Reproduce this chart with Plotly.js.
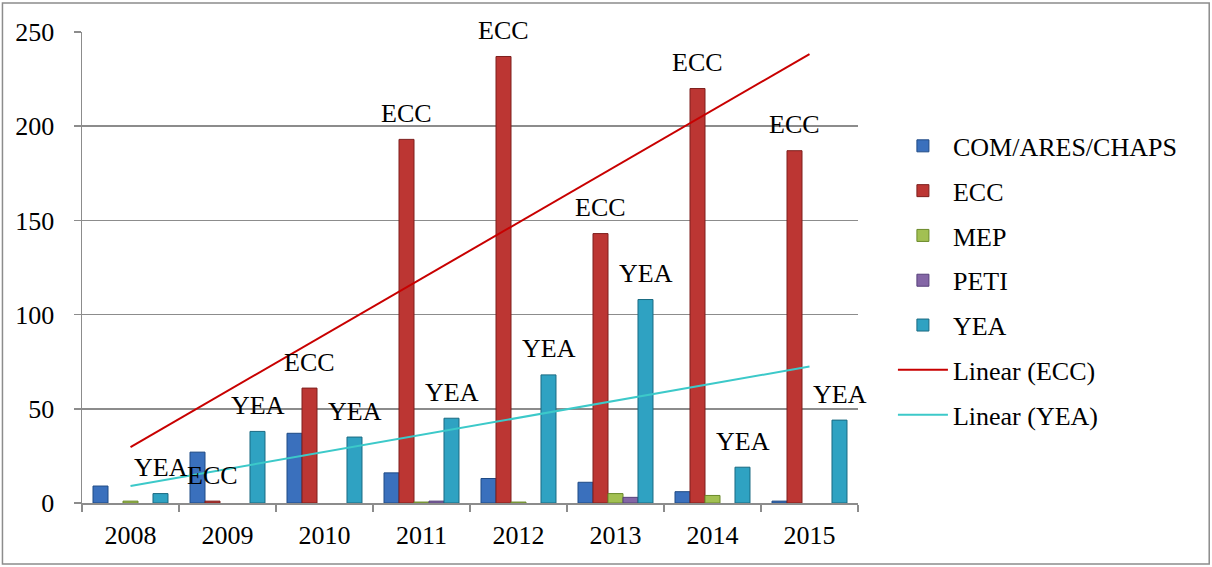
<!DOCTYPE html>
<html>
<head>
<meta charset="utf-8">
<script src="https://cdn.plot.ly/plotly-3.0.1.min.js"></script>
<style>
  html, body { margin: 0; padding: 0; background: #fff; }
  #chart { width: 1212px; height: 567px; }
</style>
</head>
<body>
<div id="chart"></div>
<script>
// ---- data ----
var years = ['2008', '2009', '2010', '2011', '2012', '2013', '2014', '2015'];
var seriesNames = ['COM/ARES/CHAPS', 'ECC', 'MEP', 'PETI', 'YEA'];
var comValues  = [9, 27, 37, 16, 13, 11, 6, 1];
var eccValues  = [null, 1, 61, 193, 237, 143, 220, 187];
var mepValues  = [1, null, null, 0.5, 0.5, 5, 4, null];
var petiValues = [null, null, null, 1, null, 3, null, null];
var yeaValues  = [5, 38, 35, 45, 68, 108, 19, 44];
// trend line end points (first and last category)
var trendYears = ['2008', '2015'];
var eccTrend = [29.7, 238.3];
var yeaTrend = [9.0, 72.4];
var yTicks = [0, 50, 100, 150, 200, 250];

// ---- styles ----
var fillColors = ['#3A70BD', '#BC3633', '#A2C052', '#8466A6', '#2FA2C2'];
var edgeColors = ['#1F4A85', '#7E1F1D', '#6A8A2A', '#56407A', '#1A6A82'];
var FONT = 'Liberation Serif, Times New Roman, serif';
var FS = 26;

var valueSets = [comValues, eccValues, mepValues, petiValues, yeaValues];
var traces = valueSets.map(function (vals, i) {
  return {
    type: 'bar',
    name: seriesNames[i],
    x: years,
    y: vals,
    legendgroup: 'g' + i,
    marker: { color: fillColors[i], line: { color: edgeColors[i], width: 1 } },
    hoverinfo: 'x+y+name'
  };
});
traces.push({
  type: 'scatter', mode: 'lines', name: 'Linear (ECC)',
  x: trendYears, y: eccTrend, legendgroup: 'g5',
  line: { color: '#C80000', width: 2 }
});
traces.push({
  type: 'scatter', mode: 'lines', name: 'Linear (YEA)',
  x: trendYears, y: yeaTrend, legendgroup: 'g6',
  line: { color: '#3CC9C9', width: 2 }
});

// data labels (series name above ECC and YEA bars)
var annotations = [];
var barOffsets = { ECC: -15, YEA: 30 };
[['ECC', eccValues], ['YEA', yeaValues]].forEach(function (pair) {
  pair[1].forEach(function (v, k) {
    if (v === null) return;
    annotations.push({
      x: k, y: v, xref: 'x', yref: 'y',
      text: pair[0], showarrow: false,
      xshift: barOffsets[pair[0]], yshift: 26,
      yanchor: 'middle', xanchor: 'center',
      font: { family: FONT, size: FS, color: '#000' }
    });
  });
});

var layout = {
  width: 1212, height: 567,
  margin: { l: 82, r: 354, t: 32, b: 64, pad: 0 },
  paper_bgcolor: '#fff', plot_bgcolor: '#fff',
  font: { family: FONT, size: FS, color: '#000' },
  barmode: 'group', bargap: 0.227, bargroupgap: 0,
  showlegend: true,
  legend: {
    x: 1.045, xanchor: 'left', y: 0.808, yanchor: 'top',
    font: { family: FONT, size: FS, color: '#000' },
    tracegroupgap: 8, itemwidth: 50,
    bgcolor: 'rgba(0,0,0,0)'
  },
  xaxis: {
    type: 'category', range: [-0.5, years.length - 0.5],
    showgrid: false, showline: true,
    linecolor: '#8C8C8C', linewidth: 1.5,
    ticks: 'outside', tickson: 'boundaries', ticklen: 7,
    tickcolor: '#8C8C8C', tickwidth: 1.5,
    tickfont: { family: FONT, size: FS, color: '#000' },
    ticklabelstandoff: 8,
    fixedrange: true
  },
  yaxis: {
    range: [0, 250], tickvals: yTicks, ticktext: yTicks.map(String),
    showgrid: true, gridcolor: '#8C8C8C', gridwidth: 1.5,
    showline: true, linecolor: '#8C8C8C', linewidth: 1.5,
    zeroline: false,
    ticks: 'outside', ticklen: 7, tickcolor: '#8C8C8C', tickwidth: 1.5,
    tickfont: { family: FONT, size: FS, color: '#000' },
    ticklabelstandoff: 14,
    fixedrange: true
  },
  annotations: annotations,
  shapes: [{
    type: 'rect', xref: 'paper', yref: 'paper',
    x0: -0.1025, x1: 1.4526, y0: -0.1295, y1: 1.0616,
    line: { color: '#8C8C8C', width: 1.5 }, fillcolor: 'rgba(0,0,0,0)'
  }]
};

Plotly.newPlot('chart', traces, layout, { displayModeBar: false, staticPlot: true });
</script>
</body>
</html>
